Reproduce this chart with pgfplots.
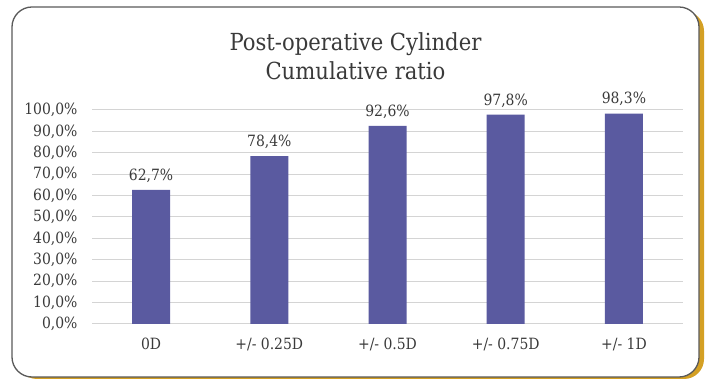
\documentclass[border=0pt]{standalone}
\usepackage{pgfplots}
\pgfplotsset{compat=1.18}
\usepackage{fontspec}
\setmainfont{DejaVu Serif Condensed}
\definecolor{barcol}{HTML}{5A5AA0}
\definecolor{gridcol}{HTML}{D4D4D4}
\definecolor{txtcol}{HTML}{3A3A3A}
\definecolor{shadowcol}{HTML}{D4A024}
\definecolor{framecol}{HTML}{5A5A5A}
\begin{document}
\begin{tikzpicture}[x=1pt,y=1pt]
  % canvas
  \path[fill=white] (0,0) rectangle (711,379);
  % frame with golden drop shadow
  \fill[shadowcol,rounded corners=20pt] (17,0) rectangle (704,368);
  \draw[framecol,line width=1.3pt,fill=white,rounded corners=20pt] (12,2) rectangle (699,372);
  % title
  \node[txtcol,align=center,font=\fontsize{23.5}{28.5}\selectfont] at (355.5,323) {Post-operative Cylinder\\Cumulative ratio};
  \begin{axis}[
    at={(92pt,55pt)}, anchor=south west,
    width=591pt, height=214pt, scale only axis,
    xmin=-0.5, xmax=4.5, ymin=0, ymax=100,
    axis line style={draw=none},
    major tick length=0pt,
    ymajorgrids, grid style={gridcol,line width=1pt},
    ytick={0,10,...,100},
    yticklabels={{0,0\%},{10,0\%},{20,0\%},{30,0\%},{40,0\%},{50,0\%},{60,0\%},{70,0\%},{80,0\%},{90,0\%},{100,0\%}},
    xtick={0,1,2,3,4},
    xticklabels={0D,{+/- 0.25D},{+/- 0.5D},{+/- 0.75D},{+/- 1D}},
    tick label style={txtcol,font=\fontsize{15.5}{18}\selectfont},
    yticklabel style={xshift=-11pt},
    xticklabel style={yshift=-10pt},
    clip=false,
    nodes near coords,
    point meta=explicit symbolic,
    every node near coord/.append style={txtcol,font=\fontsize{15.5}{18}\selectfont,yshift=4pt},
  ]
    \addplot[ybar,bar width=38pt,fill=barcol,draw=none] coordinates {
      (0,62.7) [62,7\%]
      (1,78.4) [78,4\%]
      (2,92.6) [92,6\%]
      (3,97.8) [97,8\%]
      (4,98.3) [98,3\%]
    };
  \end{axis}
\end{tikzpicture}
\end{document}
